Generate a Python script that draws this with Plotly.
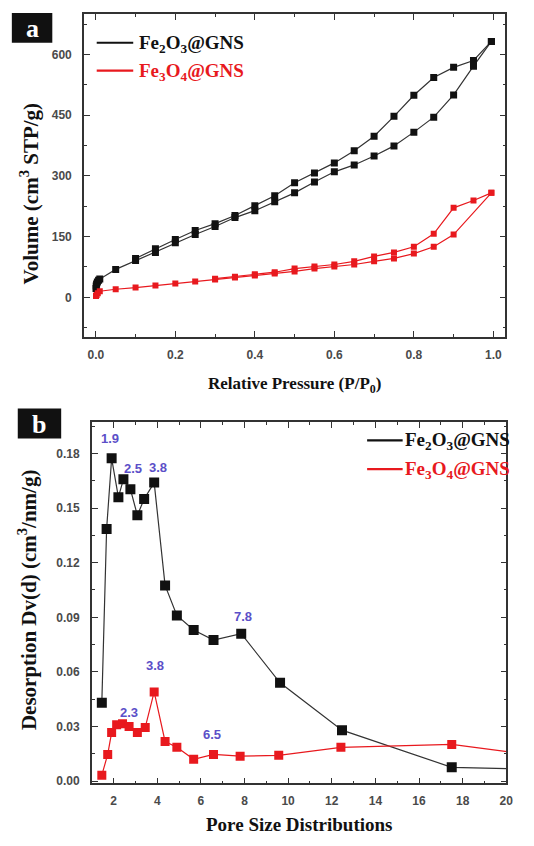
import plotly.graph_objects as go

# ---------------- Panel a: N2 isotherms ----------------
a_bk_ads_x = [0.0005, 0.001, 0.002, 0.004, 0.007, 0.01, 0.05, 0.1, 0.15, 0.2, 0.25, 0.3, 0.35, 0.4, 0.45,
              0.5, 0.55, 0.6, 0.65, 0.7, 0.75, 0.8, 0.85, 0.9, 0.95, 0.995]
a_bk_ads_y = [22, 28, 33, 38, 42, 45, 69, 91, 111, 135, 155, 175, 197, 214, 236,
              258, 285, 310, 327, 349, 374, 408, 445, 500, 571, 632]
a_bk_des_x = [0.995, 0.95, 0.9, 0.85, 0.8, 0.75, 0.7, 0.65, 0.6, 0.55, 0.5, 0.45, 0.4, 0.35, 0.3,
              0.25, 0.2, 0.15, 0.1]
a_bk_des_y = [632, 585, 568, 543, 499, 447, 398, 362, 332, 307, 283, 251, 226, 202, 182,
              165, 143, 120, 96]
a_rd_ads_x = [0.0005, 0.002, 0.005, 0.01, 0.05, 0.1, 0.15, 0.2, 0.25, 0.3, 0.35, 0.4, 0.45, 0.5,
              0.55, 0.6, 0.65, 0.7, 0.75, 0.8, 0.85, 0.9, 0.995]
a_rd_ads_y = [3, 6, 10, 15, 20, 24, 29, 34, 39, 44, 49, 54, 59, 64,
              71, 76, 81, 89, 96, 108, 125, 155, 258]
a_rd_des_x = [0.995, 0.95, 0.9, 0.85, 0.8, 0.75, 0.7, 0.65, 0.6, 0.55, 0.5, 0.45, 0.4, 0.35, 0.3]
a_rd_des_y = [258, 239, 221, 157, 125, 111, 101, 89, 81, 76, 71, 62, 57, 51, 46]

# ---------------- Panel b: pore size distribution ----------------
b_bk_x = [1.46, 1.68, 1.91, 2.22, 2.45, 2.77, 3.09, 3.40, 3.86, 4.36, 4.90, 5.67, 6.58, 7.85, 9.63,
          12.47, 17.5, 25.0]
b_bk_y = [0.043, 0.1385, 0.1773, 0.156, 0.1658, 0.1604, 0.146, 0.155, 0.164, 0.1075, 0.091, 0.083,
          0.0775, 0.081, 0.054, 0.028, 0.0076, 0.0055]
b_rd_x = [1.46, 1.73, 1.91, 2.14, 2.41, 2.71, 3.09, 3.45, 3.86, 4.36, 4.90, 5.67, 6.58, 7.80, 9.57,
          12.42, 17.5, 25.5]
b_rd_y = [0.0033, 0.0147, 0.0267, 0.031, 0.0316, 0.030, 0.0267, 0.0295, 0.049, 0.0218, 0.0186, 0.012,
          0.0147, 0.0137, 0.0142, 0.0186, 0.0202, 0.0075]

b_peak_labels = ["1.9", "2.5", "3.8", "7.8", "3.8", "2.3", "6.5"]
b_peak_x = [1.85, 2.9, 4.05, 7.95, 3.9, 2.7, 6.5]
b_peak_y = [0.188, 0.1715, 0.1725, 0.0905, 0.0635, 0.0375, 0.0255]

BLACK = "#111111"
RED = "#e8191e"
LINE = "#333333"
PURPLE = "#5b4fc8"
W, H = 534, 846

fig = go.Figure()


def add(x, y, color, xa, ya, ms):
    fig.add_trace(go.Scatter(x=x, y=y, mode="lines+markers", xaxis=xa, yaxis=ya,
                             line=dict(color=LINE if color == BLACK else color, width=1.2),
                             marker=dict(symbol="square", size=ms, color=color,
                                         line=dict(width=0)),
                             showlegend=False, cliponaxis=True))


add(a_bk_ads_x, a_bk_ads_y, BLACK, "x", "y", 7)
add(a_bk_des_x, a_bk_des_y, BLACK, "x", "y", 7)
add(a_rd_ads_x, a_rd_ads_y, RED, "x", "y", 6)
add(a_rd_des_x, a_rd_des_y, RED, "x", "y", 6)
add(b_bk_x, b_bk_y, BLACK, "x2", "y2", 10)
add(b_rd_x, b_rd_y, RED, "x2", "y2", 9)


def px_x(px):
    return px / W


def px_y(py):
    return 1 - py / H


tickfont = dict(family="Liberation Sans", size=12, color="#4a4a4a", weight="bold")
axis_common = dict(showline=True, linecolor="#333333", linewidth=1.5, mirror="ticks",
                   ticks="inside", ticklen=6, tickwidth=1.2, tickcolor="#333333",
                   showgrid=False, zeroline=False, tickfont=tickfont)

fig.update_layout(
    width=W, height=H, margin=dict(l=0, r=0, t=0, b=0),
    paper_bgcolor="white", plot_bgcolor="white",
    xaxis=dict(domain=[px_x(85), px_x(512)], range=[-0.03, 1.03], anchor="y",
               tickvals=[0, 0.2, 0.4, 0.6, 0.8, 1.0], ticktext=["0.0", "0.2", "0.4", "0.6", "0.8", "1.0"],
               minor=dict(dtick=0.1, tick0=0, ticks="inside", ticklen=3, tickcolor="#333333"),
               ticklabelstandoff=6, **axis_common),
    yaxis=dict(domain=[px_y(339), px_y(14)], range=[-98, 700], anchor="x",
               tickvals=[0, 150, 300, 450, 600],
               minor=dict(dtick=75, tick0=0, ticks="inside", ticklen=3, tickcolor="#333333"),
               ticklabelstandoff=8, **axis_common),
    xaxis2=dict(domain=[px_x(93), px_x(513)], range=[1, 20], anchor="y2",
                tickvals=[2, 4, 6, 8, 10, 12, 14, 16, 18, 20],
                minor=dict(dtick=1, tick0=0, ticks="inside", ticklen=3, tickcolor="#333333"),
                ticklabelstandoff=6, **axis_common),
    yaxis2=dict(domain=[px_y(788), px_y(425)], range=[-0.0012, 0.197], anchor="x2",
                tickvals=[0, 0.03, 0.06, 0.09, 0.12, 0.15, 0.18],
                ticktext=["0.00", "0.03", "0.06", "0.09", "0.12", "0.15", "0.18"],
                minor=dict(dtick=0.015, tick0=0, ticks="inside", ticklen=3, tickcolor="#333333"),
                ticklabelstandoff=8, **axis_common),
)

serif = "Liberation Serif"
ann = []
shapes = []

# panel letters
for letter, (x0, y0, x1, y1) in [("a", (12, 13, 53, 43)), ("b", (18, 411, 62, 441))]:
    shapes.append(dict(type="rect", xref="paper", yref="paper", x0=px_x(x0), x1=px_x(x1),
                       y0=px_y(y1), y1=px_y(y0), fillcolor="#111111", line=dict(width=0), layer="above"))
    ann.append(dict(text="<b>%s</b>" % letter, xref="paper", yref="paper", x=px_x((x0 + x1) / 2),
                    y=px_y((y0 + y1) / 2 + 1), showarrow=False, font=dict(family=serif, size=26, color="white"),
                    xanchor="center", yanchor="middle"))

# legends
legend_items = [
    (98, 135, 43, 139, BLACK, "Fe<sub>2</sub>O<sub>3</sub>@GNS"),
    (98, 135, 71, 139, RED, "Fe<sub>3</sub>O<sub>4</sub>@GNS"),
    (372, 408, 443, 408, BLACK, "Fe<sub>2</sub>O<sub>3</sub>@GNS"),
    (372, 408, 472, 408, RED, "Fe<sub>3</sub>O<sub>4</sub>@GNS"),
]
for x0, x1, y, tx, col, txt in legend_items:
    shapes.append(dict(type="line", xref="paper", yref="paper", x0=px_x(x0), x1=px_x(x1),
                       y0=px_y(y), y1=px_y(y), line=dict(color=col, width=2.2)))
    ann.append(dict(text="<b>%s</b>" % txt, xref="paper", yref="paper", x=px_x(tx), y=px_y(y + 1),
                    showarrow=False, xanchor="left", yanchor="middle",
                    font=dict(family=serif, size=19, color=col)))

# axis titles
ann.append(dict(text="<b>Volume (cm<sup>3</sup> STP/g)</b>", xref="paper", yref="paper",
                x=px_x(30), y=px_y(195), textangle=-90, showarrow=False,
                font=dict(family=serif, size=21, color="#111111"), xanchor="center", yanchor="middle"))
ann.append(dict(text="<b>Relative Pressure (P/P<sub>0</sub>)</b>", xref="paper", yref="paper",
                x=px_x(298), y=px_y(387), showarrow=False,
                font=dict(family=serif, size=17, color="#111111"), xanchor="center", yanchor="middle"))
ann.append(dict(text="<b>Desorption Dv(d) (cm<sup>3</sup>/nm/g)</b>", xref="paper", yref="paper",
                x=px_x(28), y=px_y(603), textangle=-90, showarrow=False,
                font=dict(family=serif, size=21, color="#111111"), xanchor="center", yanchor="middle"))
ann.append(dict(text="<b>Pore Size Distributions</b>", xref="paper", yref="paper",
                x=px_x(303), y=px_y(829), showarrow=False,
                font=dict(family=serif, size=19, color="#111111"), xanchor="center", yanchor="middle"))

# peak labels
for t, x, y in zip(b_peak_labels, b_peak_x, b_peak_y):
    ann.append(dict(text="<b>%s</b>" % t, xref="x2", yref="y2", x=x, y=y, showarrow=False,
                    font=dict(family="Liberation Sans", size=13, color=PURPLE),
                    xanchor="center", yanchor="middle"))

fig.update_layout(annotations=ann, shapes=shapes)
fig.write_html("out.html")
